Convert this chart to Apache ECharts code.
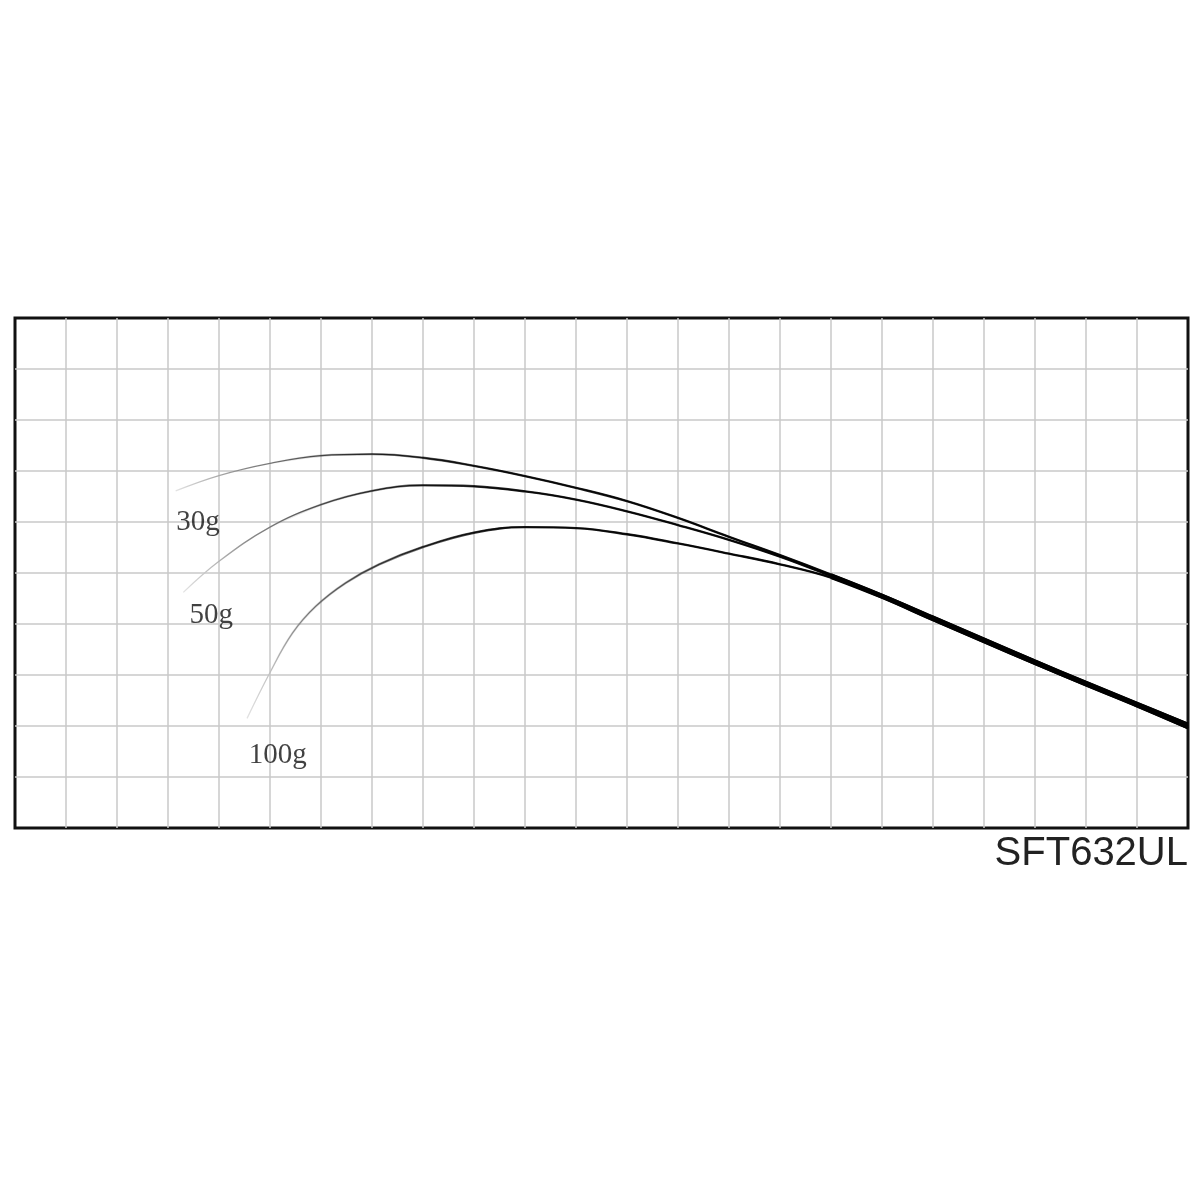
<!DOCTYPE html>
<html>
<head>
<meta charset="utf-8">
<title>SFT632UL</title>
<script src="https://cdn.jsdelivr.net/npm/echarts@6/dist/echarts.min.js"></script>
<style>
  html, body { margin: 0; padding: 0; background: #fff; }
  #chart { width: 1200px; height: 1200px; }
</style>
</head>
<body>
<div id="chart"></div>
<script>
// bend curves, x = grid cells from the butt, y = grid cells from the bottom
const curve30 = [
    [3.15, 6.61], [4, 6.91], [5, 7.15], [6, 7.3], [7, 7.33], [8, 7.26],
    [9, 7.1], [10, 6.9], [11, 6.67], [12, 6.41], [13, 6.08], [14, 5.71], [15, 5.35],
    [16, 4.97], [17, 4.57], [18, 4.14], [19, 3.71], [20, 3.28], [21, 2.86], [22, 2.45], [23, 2.04],
];
const curve50 = [
    [3.3, 4.62], [4, 5.23], [5, 5.9], [6, 6.34], [7, 6.61], [8, 6.72],
    [9, 6.7], [10, 6.6], [11, 6.44], [12, 6.21], [13, 5.94], [14, 5.65], [15, 5.32],
    [16, 4.94], [17, 4.55], [18, 4.11], [19, 3.68], [20, 3.25], [21, 2.83], [22, 2.42], [23, 2.0],
];
const curve100 = [
    [4.55, 2.15], [5, 3.05], [5.44, 3.82], [5.9, 4.35], [6.49, 4.81], [7.14, 5.17], [8, 5.51],
    [9, 5.79], [10, 5.9], [11, 5.88], [12, 5.76], [13, 5.58], [14, 5.38], [15, 5.17],
    [16, 4.91], [17, 4.52], [18, 4.08], [19, 3.65], [20, 3.22], [21, 2.8], [22, 2.39], [23, 1.96],
];

const loadNames = ['30g', '50g', '100g'];
const labelX = [3.59, 3.85, 5.15];
const labelY = [6.0, 4.16, 1.43];

const modelName = 'SFT632UL';

const curves = [curve30, curve50, curve100];

// 竿先側は細く薄く
const fade = {
    type: 'linear', x: 0, y: 0, x2: 1, y2: 0,
    colorStops: [
        {offset: 0, color: '#e6e6e6'},
        {offset: 0.07, color: '#888'},
        {offset: 0.2, color: '#333'},
        {offset: 1, color: '#000'},
    ],
};
// 太い線はフェードインさせる
const thickFade = {
    type: 'linear', x: 0, y: 0, x2: 1, y2: 0,
    colorStops: [
        {offset: 0, color: 'rgba(0,0,0,0)'},
        {offset: 0.25, color: 'rgba(0,0,0,0.85)'},
        {offset: 1, color: '#000'},
    ],
};

const series = [];
curves.forEach((pts, i) => {
    series.push({
        name: loadNames[i],
        type: 'line',
        data: pts,
        smooth: 0.4,
        symbol: 'none',
        silent: true,
        z: 3,
        lineStyle: {width: 1.3, color: fade},
    });
    series.push({
        name: loadNames[i] + '-thick',
        type: 'line',
        data: pts.filter(p => p[0] >= 5),
        smooth: 0.4,
        symbol: 'none',
        silent: true,
        z: 4,
        lineStyle: {width: 2.4, color: thickFade},
    });
    series.push({
        name: loadNames[i] + '-butt',
        type: 'line',
        data: pts.filter(p => p[0] >= 16),
        smooth: 0.4,
        symbol: 'none',
        silent: true,
        z: 4,
        lineStyle: {width: 2.8, color: '#000'},
    });
});

series.push({
    type: 'scatter',
    symbolSize: 0,
    silent: true,
    z: 5,
    data: loadNames.map((n, i) => ({name: n, value: [labelX[i], labelY[i]]})),
    label: {
        show: true,
        position: 'inside',
        formatter: p => p.name,
        fontFamily: '"Liberation Serif", "DejaVu Serif", serif',
        fontSize: 29,
        color: '#111',
    },
});

const chart = echarts.init(document.getElementById('chart'), null, {renderer: 'canvas'});
chart.setOption({
    backgroundColor: '#fff',
    animation: false,
    grid: {
        left: 15, top: 318, right: 12, bottom: 372,
        show: true,
        borderColor: '#111',
        borderWidth: 3,
        backgroundColor: 'transparent',
    },
    xAxis: {
        type: 'value',
        min: 0, max: 23, interval: 1,
        axisLine: {show: false},
        axisTick: {show: false},
        axisLabel: {show: false},
        splitLine: {show: true, showMinLine: false, showMaxLine: false, lineStyle: {color: '#c9c9c9', width: 1.5}},
    },
    yAxis: {
        type: 'value',
        min: 0, max: 10, interval: 1,
        axisLine: {show: false},
        axisTick: {show: false},
        axisLabel: {show: false},
        splitLine: {show: true, showMinLine: false, showMaxLine: false, lineStyle: {color: '#c9c9c9', width: 1.5}},
    },
    graphic: [{
        type: 'text',
        right: 12,
        top: 834,
        style: {
            text: modelName,
            font: '40px "Liberation Sans", Arial, sans-serif',
            fill: '#222',
        },
    }],
    series,
});
</script>
</body>
</html>
